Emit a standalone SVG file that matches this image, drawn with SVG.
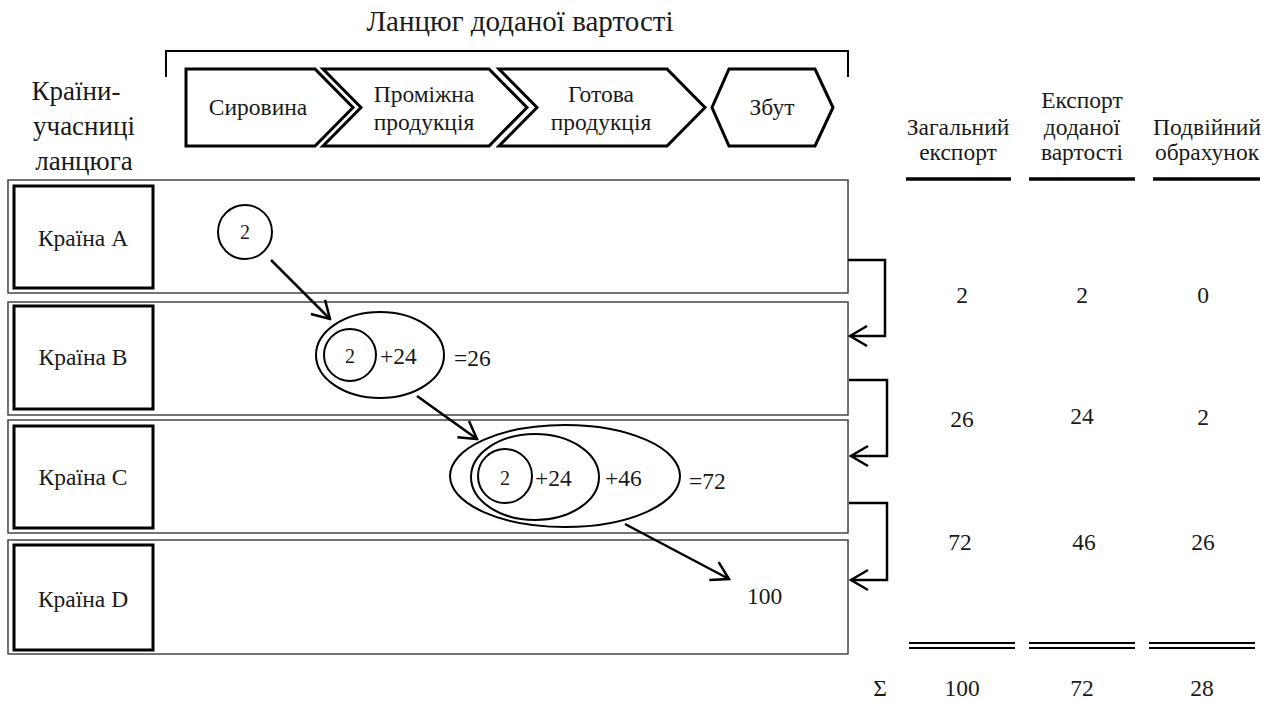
<svg xmlns="http://www.w3.org/2000/svg" width="1274" height="701" viewBox="0 0 1274 701" font-family="'Liberation Serif','Times New Roman','DejaVu Serif','Noto Serif',serif">
<style>
text{font-family:"Liberation Serif","Times New Roman","DejaVu Serif","Noto Serif",serif;fill:#1a1a1a}
.t22{font-size:23.5px}
.t19{font-size:20px}
.big{font-size:27px}
.ttl{font-size:29px}
.row{fill:none;stroke:#444;stroke-width:1.5}
.box{fill:#fff;stroke:#000;stroke-width:3}
.chev{fill:#fff;stroke:#000;stroke-width:3;stroke-linejoin:miter}
.ell{fill:none;stroke:#000;stroke-width:2}
.arr{fill:none;stroke:#000;stroke-width:2.5}
.ul{stroke:#000;stroke-width:3.5}
.dl{stroke:#000;stroke-width:2}
</style>
<defs>
<marker id="ah" viewBox="-20 -12 22 24" refX="0" refY="0" markerWidth="22" markerHeight="24" markerUnits="userSpaceOnUse" orient="auto">
<path d="M-17,-10 L0,0 L-17,10" fill="none" stroke="#000" stroke-width="2.5"/>
</marker>
</defs>
<rect width="1274" height="701" fill="#fff"/>

<g id="title">
<text class="ttl" x="520" y="31" text-anchor="middle">Ланцюг доданої вартості</text>
<path d="M166,77 V51 H848 V77" fill="none" stroke="#000" stroke-width="2"/>
</g>

<g id="left-heading">
<text class="big" x="76" y="100" text-anchor="middle">Країни-</text>
<text class="big" x="84" y="135" text-anchor="middle">учасниці</text>
<text class="big" x="84" y="170" text-anchor="middle">ланцюга</text>
</g>

<g id="stage-1">
<polygon class="chev" points="186,69 315,69 353,107.5 315,146 186,146"/>
<text class="t22" x="258" y="115" text-anchor="middle">Сировина</text>
</g>
<g id="stage-2">
<polygon class="chev" points="323,69 489,69 527,107.5 489,146 323,146 361,107.5"/>
<text class="t22" x="424" y="102" text-anchor="middle">Проміжна</text>
<text class="t22" x="424" y="130" text-anchor="middle">продукція</text>
</g>
<g id="stage-3">
<polygon class="chev" points="499,69 667,69 705,107.5 667,146 499,146 537,107.5"/>
<text class="t22" x="601" y="102" text-anchor="middle">Готова</text>
<text class="t22" x="601" y="130" text-anchor="middle">продукція</text>
</g>
<g id="stage-4">
<polygon class="chev" points="712,107.5 729,69 815,69 833,107.5 815,146 729,146"/>
<text class="t22" x="772" y="115" text-anchor="middle">Збут</text>
</g>

<g id="row-a">
<rect class="row" x="8" y="180" width="840" height="113"/>
<rect class="box" x="14" y="186" width="139" height="102"/>
<text class="t22" x="83" y="246" text-anchor="middle">Країна A</text>
</g>
<g id="row-b">
<rect class="row" x="8" y="302" width="840" height="113"/>
<rect class="box" x="14" y="306" width="139" height="103"/>
<text class="t22" x="83" y="365" text-anchor="middle">Країна B</text>
</g>
<g id="row-c">
<rect class="row" x="8" y="420" width="840" height="113"/>
<rect class="box" x="14" y="426" width="139" height="102"/>
<text class="t22" x="83" y="485" text-anchor="middle">Країна C</text>
</g>
<g id="row-d">
<rect class="row" x="8" y="540" width="840" height="114"/>
<rect class="box" x="14" y="545" width="139" height="105"/>
<text class="t22" x="83" y="607" text-anchor="middle">Країна D</text>
</g>

<g id="value-a">
<circle class="ell" cx="245" cy="232" r="27"/>
<text class="t19" x="245" y="239" text-anchor="middle">2</text>
</g>
<g id="value-b">
<ellipse class="ell" cx="380" cy="355" rx="64" ry="43"/>
<circle class="ell" cx="350" cy="355" r="26"/>
<text class="t19" x="350" y="363" text-anchor="middle">2</text>
<text class="t22" x="380" y="364">+24</text>
<text class="t22" x="454" y="366">=26</text>
</g>
<g id="value-c">
<ellipse class="ell" cx="565" cy="476" rx="115" ry="51"/>
<ellipse class="ell" cx="535" cy="477" rx="64" ry="43"/>
<circle class="ell" cx="505" cy="476" r="27"/>
<text class="t19" x="505" y="485" text-anchor="middle">2</text>
<text class="t22" x="535" y="486">+24</text>
<text class="t22" x="605" y="486">+46</text>
<text class="t22" x="689" y="489">=72</text>
</g>
<g id="value-d">
<text class="t22" x="747" y="604">100</text>
</g>

<g id="connectors">
<line class="arr" x1="271" y1="260" x2="330" y2="319" marker-end="url(#ah)"/>
<line class="arr" x1="417" y1="396" x2="477" y2="439" marker-end="url(#ah)"/>
<line class="arr" x1="625" y1="524" x2="729" y2="579" marker-end="url(#ah)"/>
<polyline class="arr" points="848,260 885,260 885,336 850,336" marker-end="url(#ah)"/>
<polyline class="arr" points="849,380 887,380 887,456 851,456" marker-end="url(#ah)"/>
<polyline class="arr" points="849,503 887,503 887,580 851,580" marker-end="url(#ah)"/>
</g>

<g id="table-header">
<text class="t22" x="958" y="135" text-anchor="middle">Загальний</text>
<text class="t22" x="958" y="160" text-anchor="middle">експорт</text>
<text class="t22" x="1082" y="108" text-anchor="middle">Експорт</text>
<text class="t22" x="1082" y="135" text-anchor="middle">доданої</text>
<text class="t22" x="1082" y="160" text-anchor="middle">вартості</text>
<text class="t22" x="1207" y="135" text-anchor="middle">Подвійний</text>
<text class="t22" x="1207" y="160" text-anchor="middle">обрахунок</text>
<line class="ul" x1="906" y1="179" x2="1011" y2="179"/>
<line class="ul" x1="1029" y1="179" x2="1135" y2="179"/>
<line class="ul" x1="1153" y1="179" x2="1260" y2="179"/>
</g>

<g id="table-values">
<text class="t22" x="962" y="303" text-anchor="middle">2</text>
<text class="t22" x="1082" y="303" text-anchor="middle">2</text>
<text class="t22" x="1203" y="303" text-anchor="middle">0</text>
<text class="t22" x="962" y="427" text-anchor="middle">26</text>
<text class="t22" x="1082" y="424" text-anchor="middle">24</text>
<text class="t22" x="1203" y="425" text-anchor="middle">2</text>
<text class="t22" x="960" y="550" text-anchor="middle">72</text>
<text class="t22" x="1084" y="550" text-anchor="middle">46</text>
<text class="t22" x="1203" y="550" text-anchor="middle">26</text>
</g>

<g id="table-total">
<line class="dl" x1="909" y1="643" x2="1015" y2="643"/>
<line class="dl" x1="909" y1="648" x2="1015" y2="648"/>
<line class="dl" x1="1029" y1="643" x2="1135" y2="643"/>
<line class="dl" x1="1029" y1="648" x2="1135" y2="648"/>
<line class="dl" x1="1149" y1="643" x2="1255" y2="643"/>
<line class="dl" x1="1149" y1="648" x2="1255" y2="648"/>
<text class="t22" x="880" y="696" text-anchor="middle">Σ</text>
<text class="t22" x="962" y="696" text-anchor="middle">100</text>
<text class="t22" x="1082" y="696" text-anchor="middle">72</text>
<text class="t22" x="1202" y="696" text-anchor="middle">28</text>
</g>
</svg>
